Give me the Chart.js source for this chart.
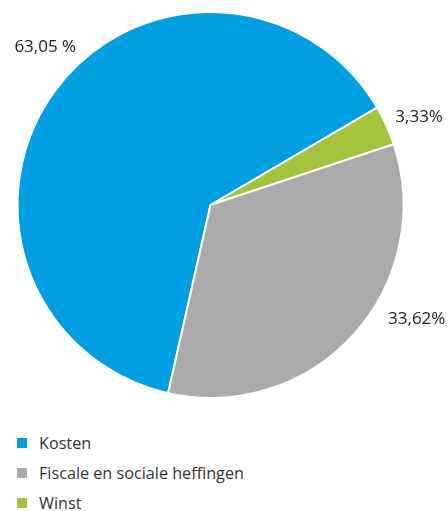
<!DOCTYPE html>
<html>
<head>
<meta charset="utf-8">
<script src="https://cdn.jsdelivr.net/npm/chart.js@4.4.0/dist/chart.umd.min.js"></script>
<style>
  body { margin: 0; background: #fff; font-family: "Open Sans", sans-serif; }
  #legend { list-style: none; margin: 0; padding: 8px 0 0 17px; color: #333; font-size: 16.2px; }
  #legend li { height: 30px; display: flex; align-items: center; }
  #legend .box { width: 10px; height: 10px; margin-right: 12px; }
</style>
</head>
<body>
<canvas id="myChart" width="448" height="420"></canvas>
<ul id="legend"></ul>
<script>
// legend order
const categories = ["Kosten", "Fiscale en sociale heffingen", "Winst"];
const shares = [63.05, 33.62, 3.33];
const shareLabels = ["63,05 %", "33,62%", "3,33%"];
const colors = ["#009fe3", "#aaaaaa", "#a3c43a"];
// slices go clockwise in this order
const drawOrder = [0, 2, 1];

const ctx = document.getElementById("myChart").getContext("2d");

// percentage texts outside the pie, placed by angle shift (deg) and gap from the rim
const sliceLabels = {
  id: "sliceLabels",
  afterDatasetsDraw(chart, args, opts) {
    const c = chart.ctx;
    const meta = chart.getDatasetMeta(0);
    c.save();
    c.font = opts.font;
    c.fillStyle = opts.color;
    c.textAlign = "center";
    c.textBaseline = "middle";
    meta.data.forEach((arc, i) => {
      const p = opts.place[i];
      const a = (arc.startAngle + arc.endAngle) / 2 + (p.shift * Math.PI) / 180;
      const r = arc.outerRadius + p.gap;
      c.fillText(opts.texts[i], arc.x + Math.cos(a) * r, arc.y + Math.sin(a) * r);
    });
    c.restore();
  },
};

const myChart = new Chart(ctx, {
  type: "pie",
  data: {
    labels: drawOrder.map((i) => categories[i]),
    datasets: [
      {
        data: drawOrder.map((i) => shares[i]),
        backgroundColor: drawOrder.map((i) => colors[i]),
        borderColor: "#ffffff",
        borderWidth: 2,
      },
    ],
  },
  options: {
    responsive: false,
    animation: false,
    rotation: 192.7,
    layout: { padding: { left: 16, right: 43, top: 11, bottom: 21 } },
    plugins: {
      legend: { display: false },
      tooltip: { enabled: false },
      sliceLabels: {
        font: '17px "Open Sans"',
        color: "#222",
        texts: drawOrder.map((i) => shareLabels[i]),
        place: [
          { shift: 7.5, gap: 35.5 },
          { shift: 1.4, gap: 33.5 },
          { shift: -13.3, gap: 42.5 },
        ],
      },
    },
  },
  plugins: [sliceLabels],
});

const legend = document.getElementById("legend");
categories.forEach((name, i) => {
  const li = document.createElement("li");
  li.innerHTML = '<span class="box" style="background:' + colors[i] + '"></span>' + name;
  legend.appendChild(li);
});
</script>
</body>
</html>
